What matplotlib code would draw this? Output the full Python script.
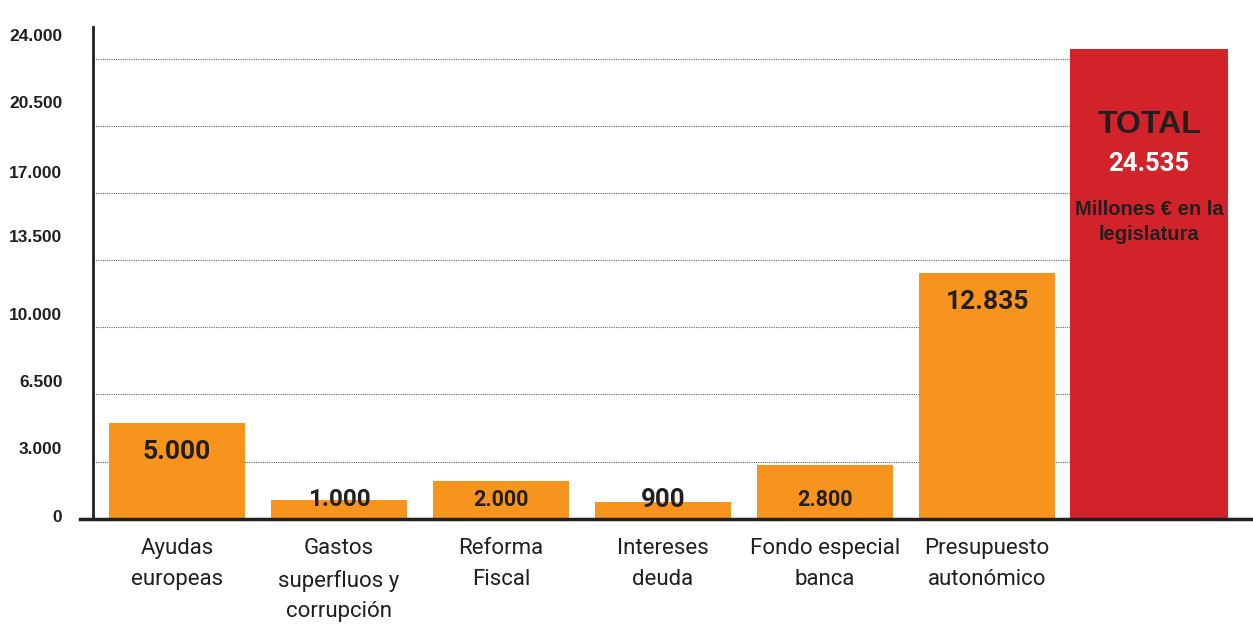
import matplotlib
matplotlib.use("Agg")
import matplotlib.pyplot as plt
import matplotlib.transforms as mtransforms

# Datos (millones de euros)
categories = ["Ayudas\neuropeas", "Gastos\nsuperfluos y\ncorrupción", "Reforma\nFiscal",
              "Intereses\ndeuda", "Fondo especial\nbanca", "Presupuesto\nautonómico"]
values = [5000, 1000, 2000, 900, 2800, 12835]
value_labels = ["5.000", "1.000", "2.000", "900", "2.800", "12.835"]
total = 24535
total_label = "24.535"
yticks = [0, 3000, 6500, 10000, 13500, 17000, 20500, 24000]
ytick_labels = ["0", "3.000", "6.500", "10.000", "13.500", "17.000", "20.500", "24.000"]

ORANGE = "#F7941E"
RED = "#D2232A"
DARK = "#231F20"
NARROW = ["Roboto", "DejaVu Sans"]
ARIAL = ["Liberation Sans", "DejaVu Sans"]

fig = plt.figure(figsize=(12.53, 6.27), dpi=100)
ax = fig.add_axes([93 / 1253, 1 - 519 / 627, 1 - 93 / 1253, (519 - 27) / 627])

xs = list(range(len(values)))
x_total = len(values)

# grid lines only up to the total bar
ax.hlines(yticks[1:], -0.6, x_total, colors="#666666", linestyles=(0, (1, 1)),
          linewidth=0.8, zorder=1)

ax.bar(xs, values, width=0.84, color=ORANGE, zorder=2)
ax.bar(x_total, total, width=0.98, color=RED, zorder=2)

# value labels: near the top of tall bars, near the base of short ones
sizes = [19, 17.5, 15.5, 18.5, 15.5, 19]
for x, v, lab, fs in zip(xs, values, value_labels, sizes):
    if v > 4000:
        xy, off = (x, v), -21
    else:
        xy, off = (x, 0), 14
    ax.annotate(lab, xy, xytext=(0, off), textcoords="offset points",
                ha="center", va="center", fontsize=fs, fontweight="bold",
                family=NARROW, color=DARK, zorder=3)

xt = ax.get_xaxis_transform()
ax.text(x_total, 0.800, "TOTAL", transform=xt, ha="center", va="center",
        fontsize=23, fontweight="bold", family=ARIAL, color=DARK)
ax.text(x_total, 0.722, total_label, transform=xt, ha="center", va="center",
        fontsize=18.5, fontweight="bold", family=NARROW, color="white")
ax.text(x_total, 0.603, "Millones € en la\nlegislatura", transform=xt,
        ha="center", va="center", fontsize=14.5, fontweight="bold", family=ARIAL,
        color=DARK, linespacing=1.4)

ax.set_xlim(-0.519, 6.642)
ax.set_ylim(0, 25670)

ax.set_xticks(xs)
ax.set_xticklabels(categories, family=NARROW, fontsize=16, fontweight="normal",
                   color=DARK, linespacing=1.6)
ax.tick_params(axis="x", length=0, pad=14)

ax.set_yticks(yticks)
ax.set_yticklabels(ytick_labels, family=ARIAL, fontsize=12.5, fontweight="bold", color=DARK)
ax.tick_params(axis="y", length=0, pad=22)
lifts = [3, 14, 13, 13, 24, 21, 24, 24]
for lbl, up in zip(ax.get_yticklabels(), lifts):
    shift = mtransforms.ScaledTranslation(0, up / 100, fig.dpi_scale_trans)
    lbl.set_transform(lbl.get_transform() + shift)

for s in ["top", "right", "bottom"]:
    ax.spines[s].set_visible(False)
ax.spines["left"].set_color(DARK)
ax.spines["left"].set_linewidth(2)

# baseline running a bit left of the spine
ax.plot([-0.011, 1], [0, 0], transform=ax.transAxes, color=DARK, linewidth=2.5,
        clip_on=False, zorder=4)

fig.savefig("out.png", dpi=100)
